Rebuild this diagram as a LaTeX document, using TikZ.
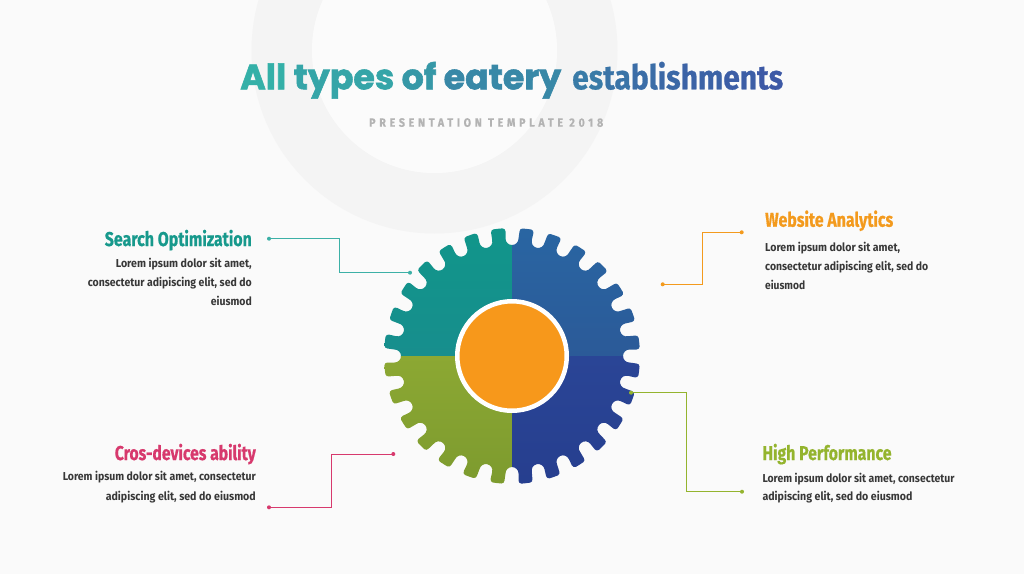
\documentclass[tikz,border=0pt]{standalone}
\usepackage{fontspec}
\usepackage{graphicx}
\setmainfont{Fira Sans}
\newfontfamily\titlefont[FakeBold=1.6]{Poppins}
\newfontfamily\condfont{Fira Sans}
\newfontfamily\headfont[FakeBold=0.7]{Fira Sans}
\newfontfamily\spacedfont[LetterSpace=35,FakeBold=0.6]{Fira Sans}
\newcommand\fitto[2]{\resizebox{#1pt}{\height}{#2}}
\definecolor{bgc}{HTML}{FAFAFA}
\definecolor{ringc}{HTML}{F4F4F4}
\definecolor{innerc}{HTML}{FBFBFB}
\definecolor{tstart}{HTML}{33B5A8}
\definecolor{tend}{HTML}{3D58A6}
\definecolor{subc}{HTML}{B3B3B3}
\definecolor{bodyc}{HTML}{383838}
\definecolor{tealc}{HTML}{17998C}
\definecolor{teall}{HTML}{3CB0A6}
\definecolor{orangec}{HTML}{F39A1D}
\definecolor{magc}{HTML}{D7396D}
\definecolor{greenc}{HTML}{94B42E}
\definecolor{gTL}{HTML}{10968A}
\definecolor{gTLb}{HTML}{178E8D}
\definecolor{gTR}{HTML}{2966A3}
\definecolor{gTRb}{HTML}{2B5A98}
\definecolor{gBL}{HTML}{8CA833}
\definecolor{gBLb}{HTML}{7C9A2E}
\definecolor{gBR}{HTML}{2A4596}
\definecolor{gBRb}{HTML}{263E8E}
\definecolor{hubc}{HTML}{F7981B}
\newcommand\tc[2]{\textcolor{tend!#1!tstart}{#2}}
\tikzset{
  conn/.style={line width=0.9pt},
  dotc/.style={circle, fill=#1, inner sep=0pt, minimum size=4pt},
  headR/.style={anchor=base east, inner sep=0pt, font=\fontsize{20}{24}\headfont\bfseries},
  headL/.style={anchor=base west, inner sep=0pt, font=\fontsize{20}{24}\headfont\bfseries},
  bodyR/.style={anchor=base east, inner sep=0pt, text=bodyc, font=\fontsize{11.5}{14}\condfont\bfseries},
  bodyL/.style={anchor=base west, inner sep=0pt, text=bodyc, font=\fontsize{11.5}{14}\condfont\bfseries},
}
% gear parameters (px)
\def\R{128}      % tip radius
\def\rn{6.5}     % notch half width
\def\sh{3}       % shoulder fillet radius
\def\yc{117.5}   % centre of notch bottom arc
\def\bp{4.482}   % asin((rn+sh)/R)
\def\Rc{127.609} % R*cos(bp)
\pgfmathsetmacro\us{\Rc-\sh}
\pgfmathsetmacro\th{360/28}
\newcommand\gearshape{(90+\bp:\R)
  \foreach \i [evaluate=\i as \p using 90+\i*\th,
               evaluate=\i as \q using 90+(\i+1)*\th] in {0,...,27} {
    arc[start angle=\p+\bp, end angle=\q-\bp, radius=\R]
    arc[start angle=\q, end angle=\q+90, radius=\sh]
    -- ({\yc*cos(\q)+\rn*sin(\q)},{\yc*sin(\q)-\rn*cos(\q)})
    arc[start angle=\q+270, end angle=\q+90, radius=\rn]
    -- ({\us*cos(\q)-\rn*sin(\q)},{\us*sin(\q)+\rn*cos(\q)})
    arc[start angle=\q-90, end angle=\q, radius=\sh]
  } -- cycle}
\begin{document}
\begin{tikzpicture}[x=1pt,y=-1pt]
\useasboundingbox (0,0) rectangle (1024,574);
\clip (0,0) rectangle (1024,574);
\fill[bgc] (0,0) rectangle (1024,574);
% faint background ring
\fill[ringc, even odd rule] (434.5,50.5) circle[radius=183pt] (434.5,50.5) circle[radius=122.5pt];
\fill[innerc] (434.5,50.5) circle[radius=122.5pt];

% title
\node[anchor=base west, inner sep=0pt] (title1) at (240,89.3)
  {\fontsize{35}{40}\titlefont\bfseries\fitto{321}{\tc{5}{All} \tc{17}{types} \tc{31}{of} \tc{48}{eatery}}};
\node[anchor=base west, inner sep=0pt] (title2) at (572,89.3)
  {\fontsize{34}{40}\headfont\bfseries\fitto{211}{\tc{62}{es}\tc{70}{ta}\tc{77}{bl}\tc{83}{is}\tc{88}{hm}\tc{94}{en}\tc{99}{ts}}};
\node[anchor=base west, inner sep=0pt, text=subc] (subtitle) at (369,126.7)
  {\fontsize{12}{14}\spacedfont\bfseries\fitto{234}{PRESENTATION TEMPLATE 2018}};

% gear
\begin{scope}[shift={(512,356)}, y=1pt]
  \begin{scope}
    \clip \gearshape;
    \shade[top color=gTL, bottom color=gTLb] (-135,0) rectangle (0,135);
    \shade[top color=gTR, bottom color=gTRb] (0,0) rectangle (135,135);
    \shade[top color=gBL, bottom color=gBLb] (-135,-135) rectangle (0,0);
    \shade[top color=gBR, bottom color=gBRb] (0,-135) rectangle (135,0);
  \end{scope}
\end{scope}
\node[circle, fill=hubc, draw=white, line width=4.5pt, minimum size=109.5pt, inner sep=0pt] (hub) at (512,356) {};

% Search Optimization (teal, top-left)
\node[headR, text=tealc] (soh) at (252,246) {\fitto{147}{Search Optimization}};
\node[bodyR] (sob1) at (252,267) {\fitto{136}{Lorem ipsum dolor sit amet,}};
\node[bodyR] (sob2) at (252,286) {\fitto{164}{consectetur adipiscing elit, sed do}};
\node[bodyR] (sob3) at (252,305) {\fitto{41}{eiusmod}};
\node[dotc=teall] (sos) at (269,238.7) {};
\coordinate (sob) at (339.3,238.7);
\coordinate (soc) at (339.3,272.7);
\node[dotc=teall] (soe) at (410,272.7) {};
\draw[conn, teall] (sos.center) -- (sob) -- (soc) -- (soe.center);

% Website Analytics (orange, top-right)
\node[headL, text=orangec] (wah) at (765,226.7) {\fitto{128}{Website Analytics}};
\node[bodyL] (wab1) at (765,251.7) {\fitto{135}{Lorem ipsum dolor sit amet,}};
\node[bodyL] (wab2) at (765,270.5) {\fitto{163}{consectetur adipiscing elit, sed do}};
\node[bodyL] (wab3) at (765,289.3) {\fitto{40}{eiusmod}};
\node[dotc=orangec] (was) at (741.7,232.3) {};
\coordinate (wab) at (702.7,232.3);
\coordinate (wac) at (702.7,284.3);
\node[dotc=orangec] (wae) at (662.7,284.3) {};
\draw[conn, orangec] (was.center) -- (wab) -- (wac) -- (wae.center);

% Cros-devices ability (magenta, bottom-left)
\node[headR, text=magc] (cdh) at (256,460) {\fitto{141}{Cros-devices ability}};
\node[bodyR] (cdb1) at (256,480.7) {\fitto{193}{Lorem ipsum dolor sit amet, consectetur}};
\node[bodyR] (cdb2) at (256,500.7) {\fitto{150}{adipiscing elit, sed do eiusmod}};
\node[dotc=magc] (cds) at (393.3,454) {};
\coordinate (cdb) at (331,454);
\coordinate (cdc) at (331,507.3);
\node[dotc=magc] (cde) at (269,507.3) {};
\draw[conn, magc] (cds.center) -- (cdb) -- (cdc) -- (cde.center);

% High Performance (green, bottom-right)
\node[headL, text=greenc] (hph) at (762.3,460) {\fitto{129}{High Performance}};
\node[bodyL] (hpb1) at (762.3,482) {\fitto{192}{Lorem ipsum dolor sit amet, consectetur}};
\node[bodyL] (hpb2) at (762.3,500.5) {\fitto{150}{adipiscing elit, sed do eiusmod}};
\node[dotc=greenc] (hps) at (631,392.7) {};
\coordinate (hpb) at (686.7,392.7);
\coordinate (hpc) at (686.7,491.7);
\node[dotc=greenc] (hpe) at (742,491.7) {};
\draw[conn, greenc] (hps.center) -- (hpb) -- (hpc) -- (hpe.center);
\end{tikzpicture}
\end{document}
